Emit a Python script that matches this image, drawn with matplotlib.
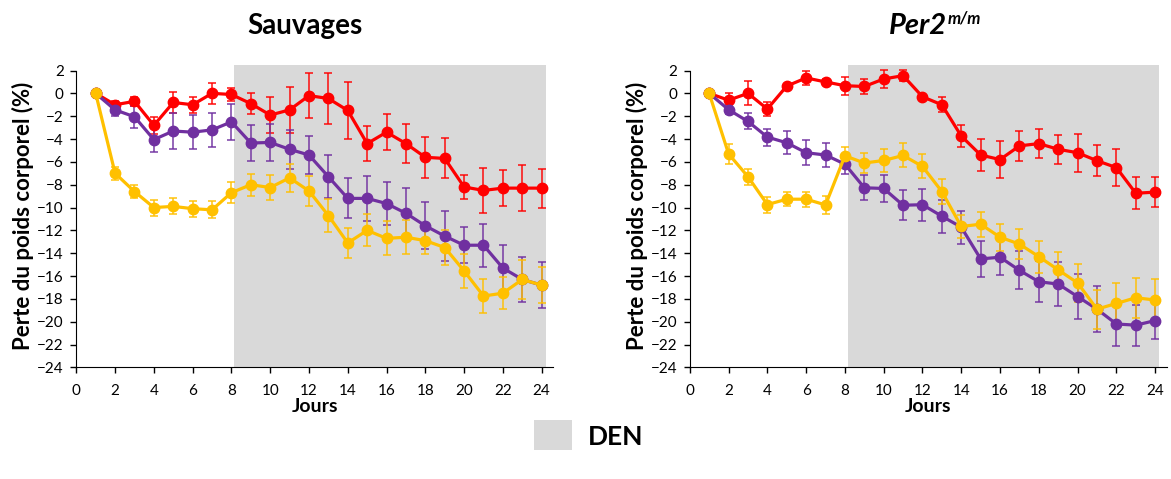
import numpy as np
import matplotlib.pyplot as plt
from matplotlib.patches import Rectangle

plt.rcParams["font.family"] = ["Lato", "DejaVu Sans"]

days = np.arange(1, 25)

# Sauvages
wt_red = [0, -1.0, -0.7, -2.8, -0.8, -1.0, 0.0, -0.1, -0.9, -1.9, -1.45, -0.2,
          -0.45, -1.5, -4.4, -3.4, -4.4, -5.6, -5.7, -8.2, -8.5, -8.3, -8.3, -8.3]
wt_red_err = [0, 0.3, 0.4, 0.75, 0.9, 0.7, 0.9, 0.6, 0.95, 1.6, 2.0, 2.0,
              2.2, 2.5, 1.5, 1.6, 1.7, 1.8, 1.75, 1.05, 2.0, 1.6, 2.0, 1.7]
wt_purple = [0, -1.45, -2.05, -4.05, -3.3, -3.4, -3.2, -2.5, -4.35, -4.3, -4.9, -5.4,
             -7.3, -9.2, -9.2, -9.65, -10.5, -11.6, -12.5, -13.3, -13.3, -15.3, -16.3, -16.8]
wt_purple_err = [0, 0.5, 0.95, 1.05, 1.55, 1.5, 1.5, 1.6, 1.55, 1.6, 1.7, 1.7,
                 1.9, 1.75, 1.95, 1.9, 2.2, 2.05, 2.2, 1.6, 1.9, 2.0, 2.0, 2.0]
wt_yellow = [0, -7.0, -8.6, -10.0, -9.9, -10.1, -10.2, -8.7, -8.0, -8.25, -7.4, -8.55,
             -10.7, -13.1, -12.0, -12.7, -12.6, -12.9, -13.5, -15.55, -17.75, -17.5, -16.3, -16.8]
wt_yellow_err = [0, 0.55, 0.6, 0.7, 0.7, 0.7, 0.75, 0.9, 0.95, 1.1, 1.25, 1.3,
                 1.45, 1.35, 1.4, 1.5, 1.5, 1.2, 1.55, 1.5, 1.5, 1.4, 1.7, 1.55]

# Per2 m/m
mut_red = [0, -0.6, 0.0, -1.37, 0.64, 1.35, 1.0, 0.67, 0.6, 1.26, 1.55, -0.3,
           -1.0, -3.74, -5.4, -5.8, -4.6, -4.4, -4.9, -5.2, -5.9, -6.5, -8.75, -8.65]
mut_red_err = [0, 0.6, 1.05, 0.65, 0.2, 0.6, 0.3, 0.8, 0.65, 0.75, 0.5, 0.2,
               0.65, 1.0, 1.4, 1.65, 1.3, 1.25, 1.25, 1.65, 1.35, 1.6, 1.4, 1.3]
mut_purple = [0, -1.43, -2.46, -3.83, -4.33, -5.2, -5.4, -6.2, -8.27, -8.33, -9.8, -9.75,
              -10.76, -11.72, -14.5, -14.35, -15.5, -16.5, -16.7, -17.8, -18.9, -20.2, -20.3, -19.9]
mut_purple_err = [0, 0.4, 0.7, 0.75, 1.0, 1.1, 1.05, 0.9, 1.1, 1.15, 1.3, 1.4,
                  1.45, 1.45, 1.55, 1.55, 1.65, 1.8, 1.9, 2.0, 2.0, 1.9, 1.8, 1.6]
mut_yellow = [0, -5.3, -7.3, -9.74, -9.27, -9.27, -9.77, -5.47, -6.1, -5.88, -5.44, -6.4,
              -8.6, -11.66, -11.46, -12.6, -13.2, -14.3, -15.46, -16.6, -18.9, -18.4, -17.9, -18.1]
mut_yellow_err = [0, 0.85, 0.7, 0.7, 0.6, 0.65, 0.8, 0.8, 0.9, 1.0, 1.05, 1.05,
                  1.1, 1.05, 1.1, 1.2, 1.3, 1.4, 1.6, 1.65, 1.7, 1.8, 1.75, 1.8]

RED = "#FF0000"
PURPLE = "#7030A0"
YELLOW = "#FFC000"
GREY = "#D9D9D9"

DEN_START, DEN_END = 8.15, 24.2

fig = plt.figure(figsize=(11.71, 4.79), dpi=100)
ax_w = 477 / 1171
ax_h = 302.6 / 479
ax_b = 1 - 367.4 / 479
ax1 = fig.add_axes([76.3 / 1171, ax_b, ax_w, ax_h])
ax2 = fig.add_axes([689.8 / 1171, ax_b, ax_w, ax_h])

panels = [
    (ax1, [(wt_red, wt_red_err, RED), (wt_purple, wt_purple_err, PURPLE),
           (wt_yellow, wt_yellow_err, YELLOW)]),
    (ax2, [(mut_red, mut_red_err, RED), (mut_purple, mut_purple_err, PURPLE),
           (mut_yellow, mut_yellow_err, YELLOW)]),
]

for ax, series in panels:
    ax.add_patch(Rectangle((DEN_START, -24), DEN_END - DEN_START, 26.5,
                           facecolor=GREY, edgecolor="none", zorder=0))
    for vals, errs, col in series:
        ax.errorbar(days, vals, yerr=errs, fmt="none", ecolor=col, elinewidth=1.3,
                    capsize=3.2, capthick=1.3, alpha=0.8, zorder=2)
        ax.plot(days, vals, color=col, linewidth=2.3, marker="o", markersize=7.5,
                zorder=3)
    ax.set_xlim(0, 24.6)
    ax.set_ylim(-24, 2.5)
    ax.set_xticks(np.arange(0, 25, 2))
    ax.set_yticks(np.arange(-24, 3, 2))
    ax.spines["top"].set_visible(False)
    ax.spines["right"].set_visible(False)
    ax.spines["left"].set_bounds(-24, 2)
    ax.spines["left"].set_color("black")
    ax.spines["bottom"].set_color("black")
    ax.tick_params(direction="out", length=4, width=1, labelsize=11, colors="black")
    ax.tick_params(axis="y", pad=5)
    ax.tick_params(axis="x", pad=8)
    ax.patch.set_alpha(0)
    ax.set_ylabel("Perte du poids corporel (%)", fontsize=16, fontweight="bold",
                  labelpad=2)
    ax.set_xlabel("Jours", fontsize=14, fontweight="bold", labelpad=0)

fig.text(305 / 1171, 1 - 26 / 479, "Sauvages", ha="center", va="center",
         fontsize=20, fontweight="bold")
fig.text(947 / 1171, 1 - 26 / 479, "Per2", ha="right", va="center",
         fontsize=21, fontweight="bold", fontstyle="italic")
fig.text(948 / 1171, 1 - 18 / 479, "m/m", ha="left", va="center",
         fontsize=12, fontweight="bold", fontstyle="italic")

fig.patches.append(Rectangle((534 / 1171, 1 - 450 / 479), 38 / 1171, 30 / 479,
                             transform=fig.transFigure, facecolor=GREY,
                             edgecolor="none"))
fig.text(588 / 1171, 1 - 437 / 479, "DEN", ha="left", va="center",
         fontsize=19, fontweight="bold")

fig.savefig("out.png", dpi=100)
